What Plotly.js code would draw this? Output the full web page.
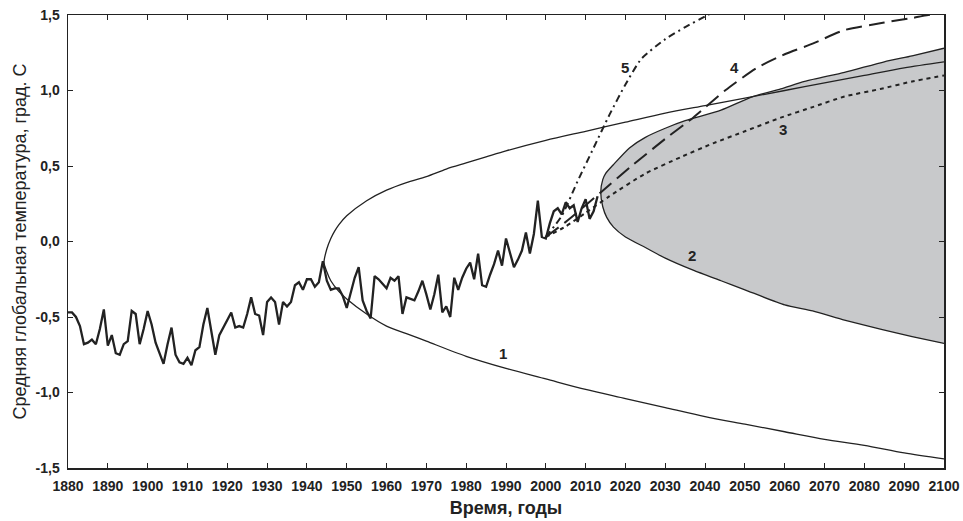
<!DOCTYPE html>
<html>
<head>
<meta charset="utf-8">
<script src="https://cdn.plot.ly/plotly-3.0.1.min.js"></script>
<style>
  html, body { margin: 0; padding: 0; background: #fff; }
  #chart { width: 963px; height: 521px; }
</style>
</head>
<body>
<div id="chart"></div>
<script>
// Observed global mean temperature, annual values
const obsYears = [];
for (let y = 1880; y <= 2013; y++) obsYears.push(y);
const obsTemp = [
  -0.47, -0.47, -0.50, -0.56, -0.68, -0.67, -0.65, -0.68, -0.58, -0.45,
  -0.69, -0.62, -0.74, -0.75, -0.68, -0.66, -0.46, -0.48, -0.68, -0.58,
  -0.46, -0.55, -0.67, -0.74, -0.81, -0.68, -0.57, -0.75, -0.80, -0.81,
  -0.77, -0.82, -0.72, -0.70, -0.55, -0.44, -0.60, -0.75, -0.62, -0.57,
  -0.53, -0.47, -0.57, -0.56, -0.57, -0.48, -0.37, -0.48, -0.49, -0.62,
  -0.40, -0.37, -0.40, -0.55, -0.40, -0.43, -0.40, -0.29, -0.27, -0.32,
  -0.25, -0.25, -0.30, -0.27, -0.13, -0.26, -0.32, -0.31, -0.31, -0.36,
  -0.44, -0.33, -0.24, -0.17, -0.39, -0.46, -0.51, -0.23, -0.25, -0.28,
  -0.31, -0.24, -0.26, -0.23, -0.48, -0.37, -0.38, -0.39, -0.33, -0.26,
  -0.35, -0.45, -0.35, -0.22, -0.47, -0.43, -0.50, -0.24, -0.32, -0.24,
  -0.18, -0.14, -0.25, -0.08, -0.29, -0.30, -0.22, -0.15, -0.06, -0.16,
   0.02, -0.08, -0.17, -0.12, -0.06,  0.06, -0.08,  0.05,  0.27,  0.03,
   0.02,  0.12,  0.20,  0.22,  0.18,  0.26,  0.22,  0.24,  0.13,  0.22,
   0.28,  0.15,  0.20,  0.30
];

// Curve 1: upper branch (2100 back to 1944) followed by lower branch (1944 to 2100)
const c1Years = [2100, 2090, 2080, 2070, 2060, 2050, 2040, 2030, 2020, 2010, 2000, 1990, 1985, 1980, 1975, 1970, 1965, 1960, 1955, 1950, 1948, 1947, 1946, 1945, 1944.3,
                 1945, 1946, 1948, 1950, 1955, 1960, 1965, 1970, 1980, 1990, 2000, 2010, 2020, 2030, 2040, 2050, 2060, 2070, 2080, 2090, 2100];
const c1Temp  = [1.19, 1.15, 1.10, 1.05, 1.00, 0.95, 0.90, 0.85, 0.79, 0.73, 0.67, 0.60, 0.56, 0.52, 0.48, 0.43, 0.39, 0.34, 0.27, 0.17, 0.11, 0.07, 0.02, -0.05, -0.14,
                 -0.20, -0.26, -0.33, -0.38, -0.48, -0.56, -0.61, -0.66, -0.76, -0.84, -0.91, -0.98, -1.04, -1.10, -1.16, -1.21, -1.26, -1.31, -1.35, -1.40, -1.44];

// Curve 2: bound of the shaded region, upper branch then lower branch
const c2Years = [2100, 2092, 2085, 2075, 2065, 2059, 2052, 2044, 2035, 2030, 2025, 2021, 2017, 2015, 2014.3, 2013.8,
                 2014.3, 2015.3, 2017, 2020, 2025, 2030, 2037, 2044, 2050, 2060, 2067, 2075, 2084, 2092, 2100];
const c2Temp  = [1.28, 1.23, 1.19, 1.12, 1.06, 1.01, 0.96, 0.87, 0.80, 0.75, 0.69, 0.62, 0.51, 0.45, 0.41, 0.33,
                 0.23, 0.16, 0.095, 0.03, -0.04, -0.11, -0.19, -0.26, -0.32, -0.42, -0.46, -0.52, -0.58, -0.63, -0.675];

// Scenario curves 3, 4, 5
const c3Years = [2000, 2005, 2010, 2016, 2025, 2034, 2042, 2050, 2059, 2067, 2075, 2084, 2092, 2100];
const c3Temp  = [0.03, 0.10, 0.19, 0.30, 0.45, 0.56, 0.65, 0.73, 0.82, 0.89, 0.96, 1.01, 1.06, 1.10];

const c4Years = [2000, 2005, 2010, 2014, 2022, 2030, 2037, 2045, 2053, 2060, 2067, 2075, 2085, 2092, 2096, 2100];
const c4Temp  = [0.03, 0.13, 0.24, 0.33, 0.51, 0.68, 0.82, 1.00, 1.15, 1.24, 1.31, 1.40, 1.45, 1.48, 1.50, 1.51];

const c5Years = [2000, 2004, 2008, 2012, 2016, 2020, 2024, 2030, 2035, 2040, 2042];
const c5Temp  = [0.03, 0.17, 0.40, 0.62, 0.84, 1.04, 1.21, 1.34, 1.42, 1.49, 1.52];

// Curve number labels
const labelText  = ['1', '2', '3', '4', '5'];
const labelYears = [1989.2, 2036.7, 2059.6, 2047.5, 2019.9];
const labelTemp  = [-0.74, -0.09, 0.74, 1.155, 1.15];

// Axis ticks
const xTickVals = [];
for (let y = 1880; y <= 2100; y += 10) xTickVals.push(y);
const xTickText = xTickVals.map(String);
const yTickVals = [-1.5, -1.0, -0.5, 0.0, 0.5, 1.0, 1.5];
const yTickText = ['-1,5', '-1,0', '-0,5', '0,0', '0,5', '1,0', '1,5'];

const ink = '#222222';
const narrow = '"Liberation Sans Narrow", "Arial Narrow", "Liberation Sans", Arial, sans-serif';
const sans = '"Liberation Sans", Arial, sans-serif';

const traces = [
  {
    x: c2Years, y: c2Temp, mode: 'lines', fill: 'toself', fillcolor: '#c8c9cb',
    line: { color: ink, width: 1.3, shape: 'spline', smoothing: 0.6 }, hoverinfo: 'skip'
  },
  {
    x: c1Years, y: c1Temp, mode: 'lines',
    line: { color: ink, width: 1.3, shape: 'spline', smoothing: 0.8 }
  },
  {
    x: obsYears, y: obsTemp, mode: 'lines',
    line: { color: ink, width: 2.3 }
  },
  {
    x: c3Years, y: c3Temp, mode: 'lines',
    line: { color: ink, width: 2, dash: '4px,4px', shape: 'spline', smoothing: 0.6 }
  },
  {
    x: c4Years, y: c4Temp, mode: 'lines',
    line: { color: ink, width: 2, dash: '16px,7px', shape: 'spline', smoothing: 0.6 }
  },
  {
    x: c5Years, y: c5Temp, mode: 'lines',
    line: { color: ink, width: 2, dash: '7px,4px,2px,4px', shape: 'spline', smoothing: 0.6 }
  }
];

const annotations = labelText.map((t, i) => ({
  x: labelYears[i], y: labelTemp[i], text: t, showarrow: false,
  font: { family: sans, size: 15, color: ink, weight: 'bold' }
}));

const layout = {
  width: 963, height: 521,
  margin: { l: 68, r: 19, t: 15, b: 53 },
  paper_bgcolor: '#ffffff', plot_bgcolor: '#ffffff',
  showlegend: false,
  annotations: annotations,
  xaxis: {
    range: [1880, 2100], tickmode: 'array', tickvals: xTickVals, ticktext: xTickText,
    ticks: 'inside', ticklen: 5, tickcolor: ink, tickwidth: 1,
    showline: true, linecolor: ink, linewidth: 1.5, mirror: 'ticks',
    showgrid: false, zeroline: false, ticklabelstandoff: 5,
    tickfont: { family: narrow, size: 14, color: ink, weight: 'bold' },
    title: { text: 'Время, годы', font: { family: narrow, size: 18, color: ink, weight: 'bold' }, standoff: 8 }
  },
  yaxis: {
    range: [-1.5, 1.5], tickmode: 'array', tickvals: yTickVals, ticktext: yTickText,
    ticks: 'inside', ticklen: 5, tickcolor: ink, tickwidth: 1,
    showline: true, linecolor: ink, linewidth: 1.5, mirror: 'ticks',
    showgrid: false, zeroline: false, ticklabelstandoff: 4,
    tickfont: { family: narrow, size: 14, color: ink, weight: 'bold' },
    title: { text: 'Средняя глобальная температура, град. С', font: { family: sans, size: 18, color: ink }, standoff: 4 }
  }
};

Plotly.newPlot('chart', traces, layout, { displayModeBar: false, staticPlot: true });
</script>
</body>
</html>
